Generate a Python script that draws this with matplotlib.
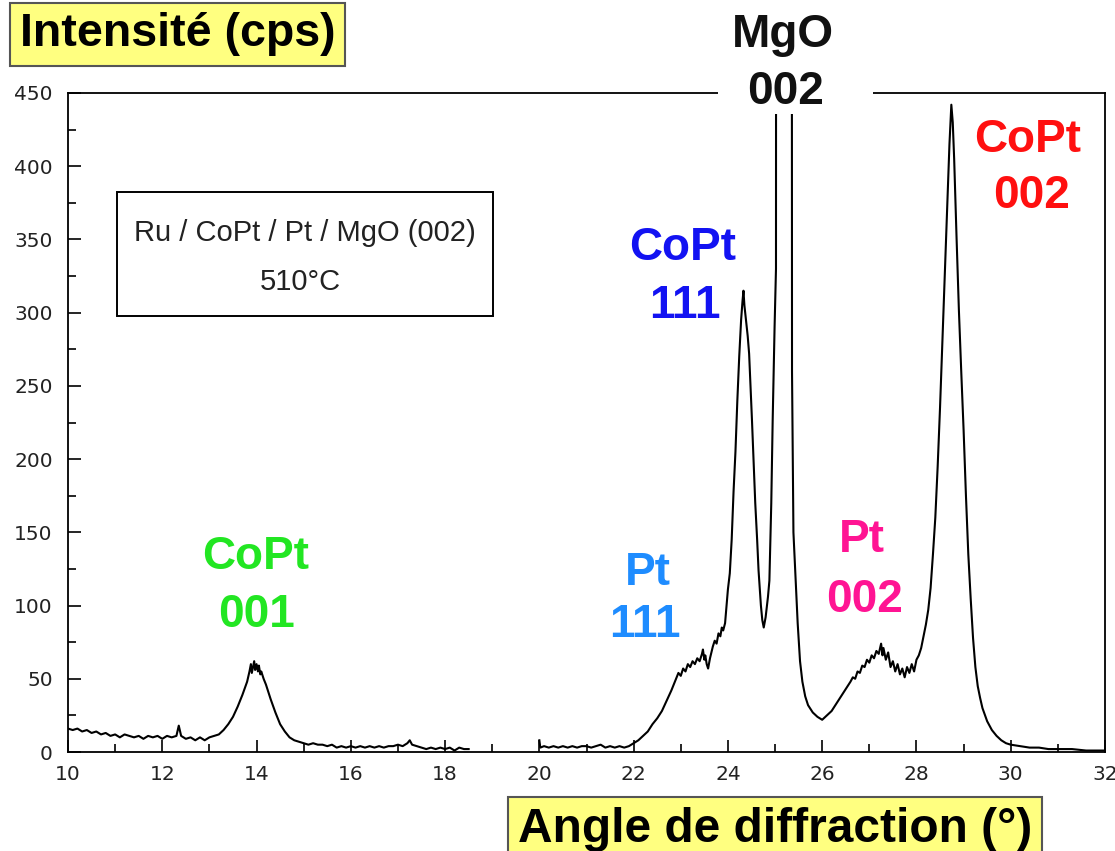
import matplotlib
matplotlib.use("Agg")
import matplotlib.pyplot as plt
from matplotlib.patches import Rectangle
from matplotlib.ticker import MultipleLocator

# ---------------- data ----------------
angle_low = [10.0, 10.1, 10.2, 10.3, 10.4, 10.5, 10.6, 10.7, 10.8, 10.9,
             11.0, 11.1, 11.2, 11.3, 11.4, 11.5, 11.6, 11.7, 11.8, 11.9,
             12.0, 12.1, 12.2, 12.3, 12.35, 12.4, 12.5, 12.6, 12.7, 12.8, 12.9,
             13.0, 13.1, 13.2, 13.3, 13.4, 13.5, 13.6, 13.7,
             13.8, 13.85, 13.88, 13.9, 13.95, 13.97, 14.0, 14.03, 14.05, 14.08,
             14.1, 14.15, 14.2, 14.3, 14.4, 14.5, 14.6, 14.7, 14.8,
             14.9, 15.0, 15.1, 15.2, 15.3, 15.4, 15.5, 15.6, 15.7, 15.8, 15.9,
             16.0, 16.1, 16.2, 16.3, 16.4, 16.5, 16.6, 16.7, 16.8, 16.9,
             17.0, 17.1, 17.2, 17.25, 17.3, 17.4, 17.5, 17.6, 17.7, 17.8, 17.9,
             18.0, 18.1, 18.2, 18.3, 18.4, 18.5]
counts_low = [16, 15, 16, 14, 15, 13, 14, 12, 13, 11,
              12, 10, 12, 11, 10, 11, 9, 11, 10, 11,
              9, 11, 10, 11, 18, 11, 9, 10, 8, 10, 8,
              10, 11, 12, 15, 19, 24, 31, 39,
              48, 55, 60, 54, 62, 56, 60, 55, 59, 53,
              55, 50, 46, 36, 27, 19, 14, 10, 8,
              7, 6, 5, 6, 5, 5, 4, 5, 3, 4, 3,
              4, 3, 4, 3, 4, 3, 4, 3, 4, 4,
              5, 4, 6, 8, 5, 4, 3, 2, 3, 2, 3,
              2, 3, 1, 3, 2, 2]

angle_high = [20.0, 20.02, 20.1, 20.2, 20.3, 20.4, 20.5, 20.6, 20.7, 20.8, 20.9,
              21.0, 21.1, 21.2, 21.3, 21.4, 21.5, 21.6, 21.7, 21.8, 21.9,
              22.0, 22.1, 22.2, 22.3, 22.4, 22.5, 22.6, 22.7, 22.8, 22.9,
              22.95, 23.0, 23.05, 23.1, 23.15, 23.2, 23.25, 23.3, 23.35, 23.4,
              23.45, 23.47, 23.5, 23.52, 23.55, 23.58, 23.62, 23.65, 23.68, 23.72,
              23.76, 23.8, 23.84, 23.87, 23.9, 23.94,
              24.0, 24.04, 24.08, 24.12, 24.16, 24.2, 24.24,
              24.28, 24.31, 24.33, 24.35, 24.38, 24.42, 24.45, 24.48, 24.51,
              24.55, 24.58, 24.62, 24.65, 24.7, 24.73, 24.76, 24.8, 24.85, 24.88,
              24.92, 24.95, 24.99, 25.02, 25.04, 25.1, 25.2, 25.3, 25.34, 25.36,
              25.39, 25.44, 25.48, 25.53, 25.58, 25.64, 25.7, 25.8, 25.9,
              26.0, 26.1, 26.2, 26.3, 26.4, 26.5,
              26.6, 26.65, 26.7, 26.75, 26.8, 26.85, 26.9, 26.95, 27.0, 27.05,
              27.1, 27.15, 27.2, 27.25, 27.28, 27.3, 27.35, 27.4, 27.45, 27.5,
              27.55, 27.6, 27.65, 27.7, 27.75, 27.8, 27.85, 27.9, 27.95, 28.0,
              28.05, 28.1, 28.15, 28.2,
              28.25, 28.3, 28.35, 28.4, 28.45, 28.5, 28.55, 28.6, 28.65, 28.7,
              28.74, 28.77, 28.8, 28.85, 28.9, 28.95, 29.0, 29.05, 29.1, 29.15,
              29.2, 29.25, 29.3, 29.35, 29.4, 29.5, 29.6, 29.7, 29.8, 29.9,
              30.0, 30.2, 30.4, 30.6, 30.8, 31.0, 31.3, 31.6, 32.0]
counts_high = [8, 3, 4, 3, 4, 3, 4, 3, 4, 3, 4,
               4, 3, 4, 5, 3, 4, 3, 4, 3, 4,
               6, 8, 11, 14, 19, 23, 28, 35, 42, 50,
               54, 52, 57, 55, 60, 58, 62, 60, 64, 62,
               67, 70, 63, 66, 60, 57, 64, 68, 72, 76,
               74, 81, 79, 85, 83, 88,
               111, 122, 145, 178, 205, 240, 270,
               295, 308, 315, 305, 296, 284, 272, 250, 227,
               195, 170, 145, 124, 100, 90, 85, 92, 106, 117,
               170, 227, 290, 330, 2500, 9000, 14000, 7000, 1800, 260,
               150, 115, 88, 62, 48, 38, 32, 27, 24,
               22, 25, 28, 33, 38, 43,
               48, 51, 50, 55, 54, 59, 58, 63, 61, 66,
               64, 69, 67, 74, 66, 71, 63, 68, 58, 62,
               55, 60, 53, 57, 51, 58, 54, 60, 55, 63,
               66, 71, 79, 87,
               97, 112, 135, 160, 195, 235, 280, 325, 370, 415,
               442, 430, 405, 352, 302, 260, 220, 175, 135, 105,
               78, 58, 45, 37, 30, 21, 15, 11, 8, 6,
               5, 4, 3, 3, 2, 2, 2, 1, 1]

x_ticks = [10, 12, 14, 16, 18, 20, 22, 24, 26, 28, 30, 32]
y_ticks = [0, 50, 100, 150, 200, 250, 300, 350, 400, 450]

y_title = "Intensité (cps)"
x_title = "Angle de diffraction (°)"
sample_lines = ["Ru / CoPt / Pt / MgO (002)", "510°C"]

peak_names = ["CoPt", "Pt", "CoPt", "MgO", "Pt", "CoPt"]
peak_hkl = ["001", "111", "111", "002", "002", "002"]
peak_colors = ["#22e622", "#1e8cff", "#1212f2", "#111111", "#ff1493", "#ff1010"]

# ---------------- figure ----------------
W, H = 1115, 851
fig = plt.figure(figsize=(W / 100, H / 100), dpi=100)
fig.patch.set_facecolor("white")


def fx(px):
    return px / W


def fy(py):
    return 1 - py / H


ax = fig.add_axes([fx(68), fy(752), (1105 - 68) / W, (752 - 93) / H])
ax.plot(angle_low, counts_low, color="black", lw=1.5)
ax.plot(angle_high, counts_high, color="black", lw=1.5)
ax.set_xlim(10, 32)
ax.set_ylim(0, 450)
ax.set_xticks(x_ticks)
ax.set_yticks(y_ticks)
ax.xaxis.set_minor_locator(MultipleLocator(1))
ax.yaxis.set_minor_locator(MultipleLocator(25))
ax.tick_params(which="both", direction="in", width=1.2, color="black",
               labelcolor="#222222", labelsize=14.5, top=False, right=False)
ax.tick_params(which="major", length=9)
ax.tick_params(which="minor", length=5.5)
ax.tick_params(axis="x", pad=9)
ax.tick_params(axis="y", pad=11)
for lab in ax.get_xticklabels() + ax.get_yticklabels():
    lab.set_family("DejaVu Sans")
for sp in ax.spines.values():
    sp.set_linewidth(1.3)

bold = dict(family="Liberation Sans", weight="bold")

# axis titles in yellow boxes
fig.text(fx(177.5), fy(34.5), y_title, fontsize=33.5, ha="center", va="center",
         color="black", bbox=dict(boxstyle="square,pad=0.2", facecolor="#ffff80",
                                  edgecolor="#555555", linewidth=1.5), **bold)
fig.text(fx(775), fy(829), x_title, fontsize=34.5, ha="center", va="center",
         color="black", bbox=dict(boxstyle="square,pad=0.2", facecolor="#ffff80",
                                  edgecolor="#555555", linewidth=1.5), **bold)

# sample description box
fig.add_artist(Rectangle((fx(117), fy(316)), (493 - 117) / W, (316 - 192) / H,
                         transform=fig.transFigure, facecolor="none",
                         edgecolor="black", linewidth=1.4, zorder=5))
fig.text(fx(305), fy(241), sample_lines[0], fontsize=21, ha="center",
         va="baseline", family="Liberation Sans", color="#222222")
fig.text(fx(300), fy(290), sample_lines[1], fontsize=21, ha="center",
         va="baseline", family="Liberation Sans", color="#222222")

# white patch behind the MgO label (interrupts frame and peak)
fig.add_artist(Rectangle((fx(718), fy(114)), (873 - 718) / W, 114 / H,
                         transform=fig.transFigure, facecolor="white",
                         edgecolor="none", zorder=10))

# peak labels: (name centre x, name baseline, hkl centre x, hkl baseline) in px
label_pos = [(256, 569, 256, 627),
             (648, 585, 645, 637),
             (683, 260, 685, 318),
             (783, 47, 786, 104),
             (862, 552, 865, 612),
             (1028, 152, 1032, 208)]
for name, hkl, col, (x1, y1, x2, y2) in zip(peak_names, peak_hkl, peak_colors, label_pos):
    fig.text(fx(x1), fy(y1), name, fontsize=33, ha="center", va="baseline",
             color=col, zorder=11, **bold)
    fig.text(fx(x2), fy(y2), hkl, fontsize=33, ha="center", va="baseline",
             color=col, zorder=11, **bold)

fig.savefig("out.png", dpi=100, facecolor="white")
